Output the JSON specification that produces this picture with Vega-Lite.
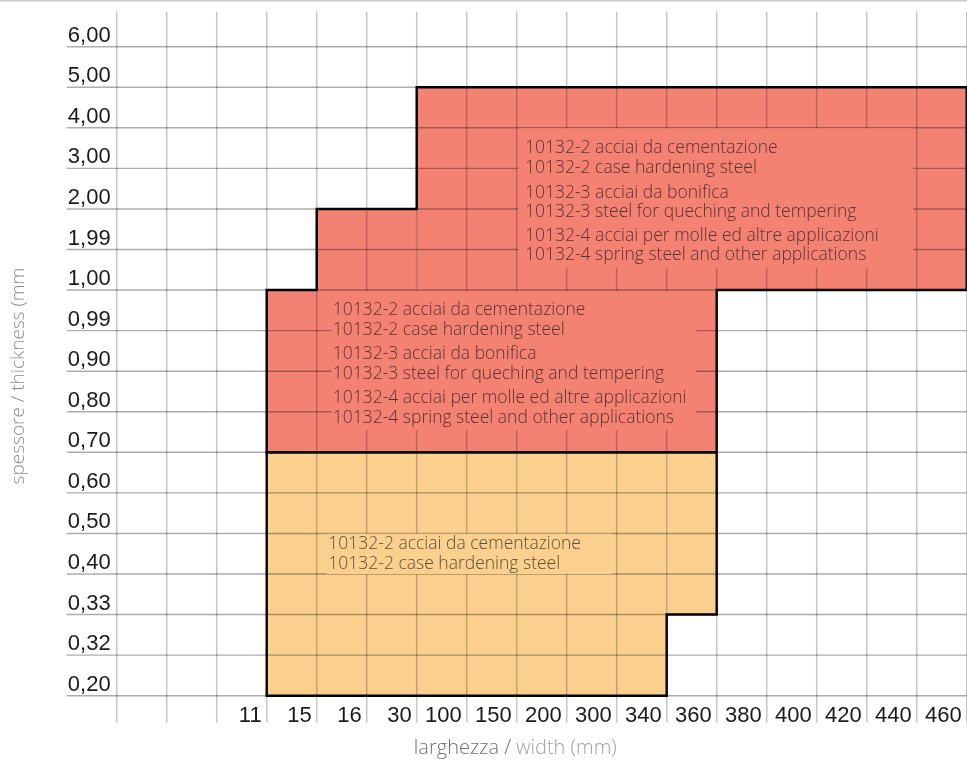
{
  "$schema": "https://vega.github.io/schema/vega-lite/v6.json",
  "width": 967,
  "height": 764,
  "padding": 0,
  "autosize": {"type": "none"},
  "background": "white",
  "config": {"view": {"stroke": null}, "axis": {"disable": true}, "legend": {"disable": true}},
  "datasets": {
    "edges": [
      {"edge": 1, "w": ""}, {"edge": 2, "w": ""}, {"edge": 3, "w": ""},
      {"edge": 4, "w": "11"}, {"edge": 5, "w": "15"}, {"edge": 6, "w": "16"},
      {"edge": 7, "w": "30"}, {"edge": 8, "w": "100"}, {"edge": 9, "w": "150"},
      {"edge": 10, "w": "200"}, {"edge": 11, "w": "300"}, {"edge": 12, "w": "340"},
      {"edge": 13, "w": "360"}, {"edge": 14, "w": "380"}, {"edge": 15, "w": "400"},
      {"edge": 16, "w": "420"}, {"edge": 17, "w": "440"}, {"edge": 18, "w": "460"}
    ],
    "levels": [
      {"level": 0, "t": "0,20"}, {"level": 1, "t": "0,32"}, {"level": 2, "t": "0,33"},
      {"level": 3, "t": "0,40"}, {"level": 4, "t": "0,50"}, {"level": 5, "t": "0,60"},
      {"level": 6, "t": "0,70"}, {"level": 7, "t": "0,80"}, {"level": 8, "t": "0,90"},
      {"level": 9, "t": "0,99"}, {"level": 10, "t": "1,00"}, {"level": 11, "t": "1,99"},
      {"level": 12, "t": "2,00"}, {"level": 13, "t": "3,00"}, {"level": 14, "t": "4,00"},
      {"level": 15, "t": "5,00"}, {"level": 16, "t": "6,00"}
    ],
    "fills": [
      {"zone": "10132-2", "u": 4, "u2": 12, "v": 0, "v2": 6},
      {"zone": "10132-2", "u": 12, "u2": 13, "v": 2, "v2": 6},
      {"zone": "10132-2/3/4", "u": 4, "u2": 13, "v": 6, "v2": 10},
      {"zone": "10132-2/3/4", "u": 5, "u2": 7, "v": 10, "v2": 12},
      {"zone": "10132-2/3/4", "u": 7, "u2": 18, "v": 10, "v2": 15}
    ],
    "boxes": [
      {"zone": "10132-2/3/4", "u": 9.03, "u2": 16.93, "v": 10.545, "v2": 13.99},
      {"zone": "10132-2/3/4", "u": 5.3, "u2": 12.59, "v": 6.55, "v2": 9.98},
      {"zone": "10132-2", "u": 5.2, "u2": 10.91, "v": 3.0, "v2": 3.99}
    ],
    "outline": [
      {"zone": "10132-2", "i": 0, "u": 4, "v": 0},
      {"zone": "10132-2", "i": 1, "u": 12, "v": 0},
      {"zone": "10132-2", "i": 2, "u": 12, "v": 2},
      {"zone": "10132-2", "i": 3, "u": 13, "v": 2},
      {"zone": "10132-2", "i": 4, "u": 13, "v": 6},
      {"zone": "10132-2", "i": 5, "u": 4, "v": 6},
      {"zone": "10132-2", "i": 6, "u": 4, "v": 0},
      {"zone": "10132-2/3/4", "i": 0, "u": 4, "v": 6},
      {"zone": "10132-2/3/4", "i": 1, "u": 13, "v": 6},
      {"zone": "10132-2/3/4", "i": 2, "u": 13, "v": 10},
      {"zone": "10132-2/3/4", "i": 3, "u": 18, "v": 10},
      {"zone": "10132-2/3/4", "i": 4, "u": 18, "v": 15},
      {"zone": "10132-2/3/4", "i": 5, "u": 7, "v": 15},
      {"zone": "10132-2/3/4", "i": 6, "u": 7, "v": 12},
      {"zone": "10132-2/3/4", "i": 7, "u": 5, "v": 12},
      {"zone": "10132-2/3/4", "i": 8, "u": 5, "v": 10},
      {"zone": "10132-2/3/4", "i": 9, "u": 4, "v": 10},
      {"zone": "10132-2/3/4", "i": 10, "u": 4, "v": 6}
    ],
    "notes": [
      {"u": 9.166, "v": 13.372, "t": "10132-2 acciai da cementazione"},
      {"u": 9.166, "v": 12.88, "t": "10132-2 case hardening steel"},
      {"u": 9.166, "v": 12.28, "t": "10132-3 acciai da bonifica"},
      {"u": 9.166, "v": 11.795, "t": "10132-3 steel for queching and tempering"},
      {"u": 9.166, "v": 11.21, "t": "10132-4 acciai per molle ed altre applicazioni"},
      {"u": 9.166, "v": 10.74, "t": "10132-4 spring steel and other applications"},
      {"u": 5.32, "v": 9.386, "t": "10132-2 acciai da cementazione"},
      {"u": 5.32, "v": 8.893, "t": "10132-2 case hardening steel"},
      {"u": 5.32, "v": 8.30, "t": "10132-3 acciai da bonifica"},
      {"u": 5.32, "v": 7.81, "t": "10132-3 steel for queching and tempering"},
      {"u": 5.32, "v": 7.21, "t": "10132-4 acciai per molle ed altre applicazioni"},
      {"u": 5.32, "v": 6.716, "t": "10132-4 spring steel and other applications"},
      {"u": 5.232, "v": 3.617, "t": "10132-2 acciai da cementazione"},
      {"u": 5.232, "v": 3.124, "t": "10132-2 case hardening steel"}
    ]
  },
  "layer": [
    {
      "data": {"values": [{}]},
      "mark": {"type": "rule", "color": "#c8c8c8", "strokeWidth": 3},
      "encoding": {
        "x": {"datum": -1.334, "type": "quantitative", "scale": {"domain": [-1.334, 18.006], "nice": false, "zero": false}},
        "x2": {"datum": 18.006},
        "y": {"datum": 17.151, "type": "quantitative", "scale": {"domain": [-1.6838, 17.151], "nice": false, "zero": false}}
      }
    },
    {
      "data": {"name": "fills"},
      "mark": {"type": "rect", "stroke": null},
      "encoding": {
        "x": {"field": "u", "type": "quantitative"},
        "x2": {"field": "u2"},
        "y": {"field": "v", "type": "quantitative"},
        "y2": {"field": "v2"},
        "color": {"field": "zone", "type": "nominal", "scale": {"domain": ["10132-2", "10132-2/3/4"], "range": ["#FBD08F", "#F48273"]}}
      }
    },
    {
      "data": {"name": "edges"},
      "mark": {"type": "rule", "color": "#c6c6c6", "strokeWidth": 1.5, "blend": "multiply"},
      "encoding": {
        "x": {"field": "edge", "type": "quantitative"},
        "y": {"datum": 16.86, "type": "quantitative"},
        "y2": {"datum": -0.666}
      }
    },
    {
      "data": {"name": "levels"},
      "mark": {"type": "rule", "color": "#adadad", "strokeWidth": 1.4, "blend": "multiply"},
      "encoding": {
        "y": {"field": "level", "type": "quantitative"},
        "x": {"datum": 0, "type": "quantitative"},
        "x2": {"datum": 18}
      }
    },
    {
      "data": {"name": "boxes"},
      "mark": {"type": "rect", "stroke": null},
      "encoding": {
        "x": {"field": "u", "type": "quantitative"},
        "x2": {"field": "u2"},
        "y": {"field": "v", "type": "quantitative"},
        "y2": {"field": "v2"},
        "color": {"field": "zone", "type": "nominal"}
      }
    },
    {
      "data": {"name": "outline"},
      "mark": {"type": "line", "color": "#000000", "strokeWidth": 2.4, "strokeJoin": "miter", "strokeCap": "square"},
      "encoding": {
        "x": {"field": "u", "type": "quantitative"},
        "y": {"field": "v", "type": "quantitative"},
        "order": {"field": "i", "type": "quantitative"},
        "detail": {"field": "zone", "type": "nominal"}
      }
    },
    {
      "data": {"name": "notes"},
      "mark": {"type": "text", "align": "left", "baseline": "alphabetic", "font": "Open Sans", "fontWeight": 300, "fontSize": 17.5, "color": "#626262", "blend": "multiply"},
      "encoding": {
        "x": {"field": "u", "type": "quantitative"},
        "y": {"field": "v", "type": "quantitative"},
        "text": {"field": "t"}
      }
    },
    {
      "data": {"name": "edges"},
      "mark": {"type": "text", "align": "right", "baseline": "alphabetic", "dx": -5, "font": "Liberation Sans", "fontSize": 22, "color": "#1a1a1a"},
      "encoding": {
        "x": {"field": "edge", "type": "quantitative"},
        "y": {"datum": -0.641, "type": "quantitative"},
        "text": {"field": "w"}
      }
    },
    {
      "data": {"name": "levels"},
      "mark": {"type": "text", "align": "right", "baseline": "alphabetic", "dx": -6, "dy": -5, "font": "Liberation Sans", "fontSize": 22, "color": "#1a1a1a"},
      "encoding": {
        "y": {"field": "level", "type": "quantitative"},
        "x": {"datum": 1, "type": "quantitative"},
        "text": {"field": "t"}
      }
    },
    {
      "data": {"values": [{"t": "spessore  / thickness (mm"}]},
      "mark": {"type": "text", "angle": 270, "align": "center", "baseline": "middle", "font": "Open Sans", "fontWeight": 300, "fontSize": 19, "color": "#8c8c8c"},
      "encoding": {
        "x": {"datum": -0.974, "type": "quantitative"},
        "y": {"datum": 7.88, "type": "quantitative"},
        "text": {"field": "t"}
      }
    },
    {
      "data": {"values": [{"t": "larghezza /"}]},
      "mark": {"type": "text", "align": "right", "baseline": "alphabetic", "font": "Open Sans", "fontWeight": 300, "fontSize": 20, "color": "#707070"},
      "encoding": {
        "x": {"datum": 8.886, "type": "quantitative"},
        "y": {"datum": -1.437, "type": "quantitative"},
        "text": {"field": "t"}
      }
    },
    {
      "data": {"values": [{"t": "width (mm)"}]},
      "mark": {"type": "text", "align": "left", "baseline": "alphabetic", "font": "Open Sans", "fontWeight": 300, "fontSize": 20, "color": "#a0a0a0"},
      "encoding": {
        "x": {"datum": 8.986, "type": "quantitative"},
        "y": {"datum": -1.437, "type": "quantitative"},
        "text": {"field": "t"}
      }
    }
  ]
}
